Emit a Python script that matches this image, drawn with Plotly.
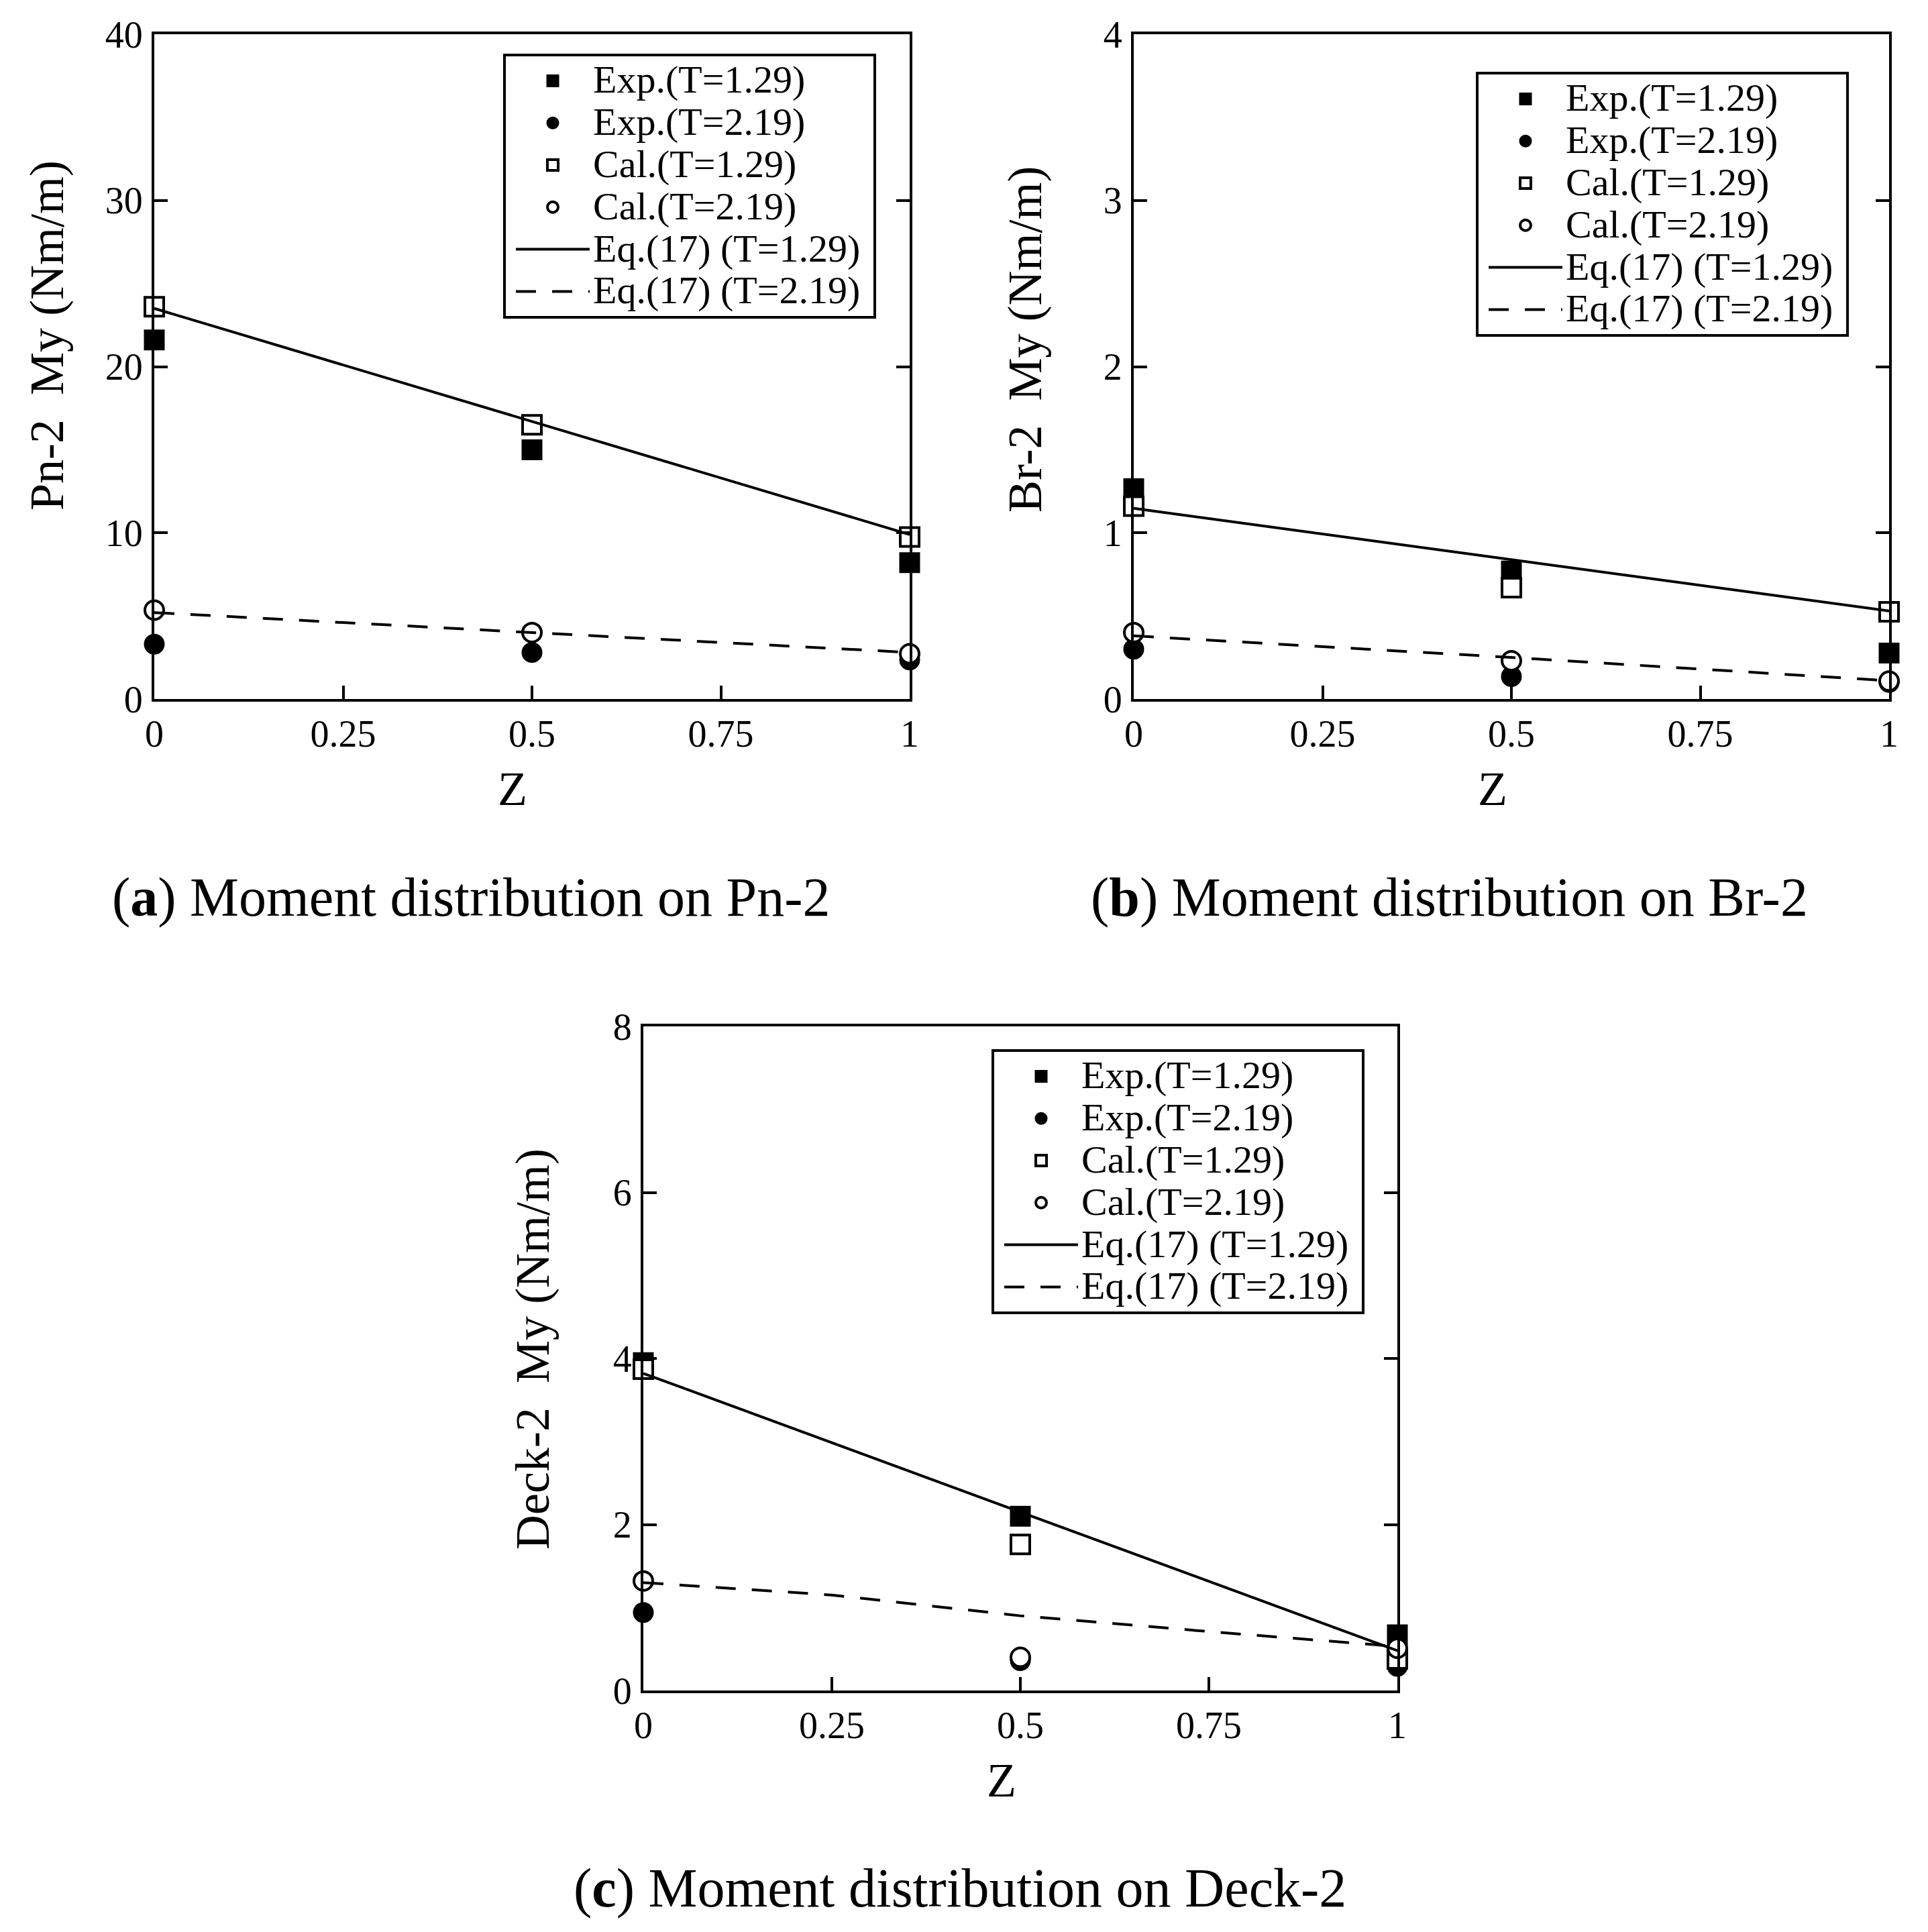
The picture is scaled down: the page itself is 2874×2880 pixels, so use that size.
import plotly.graph_objects as go

# ---------------- data ----------------
z = [0, 0.5, 1]
z_eq_c = [0, 0.25, 0.5, 0.75, 1]

# (a) Pn-2
a_exp129 = [21.6, 15.0, 8.2]
a_exp219 = [3.3, 2.8, 2.35]
a_cal129 = [23.6, 16.5, 9.75]
a_cal219 = [5.35, 4.0, 2.72]
a_eq129 = [23.5, 16.7, 9.9]
a_eq219 = [5.2, 4.0, 2.8]

# (b) Br-2
b_exp129 = [1.265, 0.77, 0.276]
b_exp219 = [0.30, 0.135, 0.10]
b_cal129 = [1.16, 0.67, 0.525]
b_cal219 = [0.40, 0.23, 0.108]
b_eq129 = [1.147, 0.84, 0.53]
b_eq219 = [0.38, 0.25, 0.11]

# (c) Deck-2
c_exp129 = [3.95, 2.10, 0.67]
c_exp219 = [0.94, 0.36, 0.29]
c_cal129 = [3.87, 1.76, 0.38]
c_cal219 = [1.32, 0.40, 0.51]
c_eq129 = [3.82, 2.15, 0.48]
c_eq219 = [1.30, 1.15, 0.90, 0.71, 0.53]

names = ["Exp.(T=1.29)", "Exp.(T=2.19)", "Cal.(T=1.29)", "Cal.(T=2.19)",
         "Eq.(17) (T=1.29)", "Eq.(17) (T=2.19)"]

x_ticks = [0, 0.25, 0.5, 0.75, 1]
x_ticktext = ["0", "0.25", "0.5", "0.75", "1"]

panels = [
    dict(ymax=40, dtick=10, ytitle="Pn-2  My (Nm/m)",
         caption="(<b>a</b>) Moment distribution on Pn-2",
         data=(a_exp129, a_exp219, a_cal129, a_cal219, a_eq129, a_eq219), zeq2=z),
    dict(ymax=4, dtick=1, ytitle="Br-2  My (Nm/m)",
         caption="(<b>b</b>) Moment distribution on Br-2",
         data=(b_exp129, b_exp219, b_cal129, b_cal219, b_eq129, b_eq219), zeq2=z),
    dict(ymax=8, dtick=2, ytitle="Deck-2  My (Nm/m)",
         caption="(<b>c</b>) Moment distribution on Deck-2",
         data=(c_exp129, c_exp219, c_cal129, c_cal219, c_eq129, c_eq219), zeq2=z_eq_c),
]

# ---------------- layout geometry (pixel positions) ----------------
W, H = 2874, 2880
FONT = "Liberation Serif"

def px(xp):
    return xp / W

def py(yp):
    return 1 - yp / H

geom = [
    dict(x=(222, 1348), y=(43, 1034), leg=(1298, 72), cap=(694, 1329),
         yt=(62, 492), xt=(756, 1168)),
    dict(x=(1682, 2808), y=(43, 1034), leg=(2748, 99), cap=(2152, 1329),
         yt=(1520, 497), xt=(2217, 1168)),
    dict(x=(951, 2075), y=(1522, 2512), leg=(2026, 1556), cap=(1423, 2806),
         yt=(786, 2003), xt=(1485, 2646)),
]

fig = go.Figure()
layout = dict(
    width=W, height=H,
    margin=dict(l=0, r=0, t=0, b=0),
    paper_bgcolor="white", plot_bgcolor="white",
    font=dict(family=FONT, color="black", size=56),
    annotations=[],
    showlegend=True,
)

MS = 28
LEGTXT = '<span style="font-size:58px">{}\u00a0</span>'
for i, (p, g) in enumerate(zip(panels, geom)):
    n = "" if i == 0 else str(i + 1)
    xa, ya = "x" + n, "y" + n
    leg = "legend" if i == 0 else "legend" + str(i + 1)
    e1, e2, c1, c2, q1, q2 = p["data"]
    common = dict(xaxis=xa, yaxis=ya, legend=leg, cliponaxis=False)
    fig.add_trace(go.Scatter(x=z, y=e1, mode="markers", name=LEGTXT.format(names[0]),
                             marker=dict(symbol="square", size=MS, color="black",
                                         line=dict(color="black", width=3)), **common))
    fig.add_trace(go.Scatter(x=z, y=e2, mode="markers", name=LEGTXT.format(names[1]),
                             marker=dict(symbol="circle", size=MS, color="black",
                                         line=dict(color="black", width=3)), **common))
    fig.add_trace(go.Scatter(x=z, y=c1, mode="markers", name=LEGTXT.format(names[2]),
                             marker=dict(symbol="square", size=MS, color="white",
                                         line=dict(color="black", width=4)), **common))
    fig.add_trace(go.Scatter(x=z, y=c2, mode="markers", name=LEGTXT.format(names[3]),
                             marker=dict(symbol="circle", size=MS, color="white",
                                         line=dict(color="black", width=4)), **common))
    fig.add_trace(go.Scatter(x=z, y=q1, mode="lines", name=LEGTXT.format(names[4]),
                             line=dict(color="black", width=4), **common))
    fig.add_trace(go.Scatter(x=p["zeq2"], y=q2, mode="lines", name=LEGTXT.format(names[5]),
                             line=dict(color="black", width=4, dash="30px,24px"), **common))

    axis_common = dict(showline=True, linecolor="black", linewidth=4,
                       ticks="inside", ticklen=20, tickwidth=4, tickcolor="black",
                       showgrid=False, zeroline=False, automargin=False,
                       tickfont=dict(family=FONT, size=56, color="black"))
    layout["xaxis" + n] = dict(
        domain=[px(g["x"][0]), px(g["x"][1])], anchor=ya,
        range=[0, 1], tickvals=x_ticks, ticktext=x_ticktext, mirror=True,
        **axis_common)
    layout["yaxis" + n] = dict(
        domain=[py(g["y"][1]), py(g["y"][0])], anchor=xa,
        range=[0, p["ymax"]], dtick=p["dtick"], tick0=0, mirror="ticks",
        ticklabelstandoff=2,
        **axis_common)
    layout[leg] = dict(
        x=px(g["leg"][0]), y=py(g["leg"][1]), xanchor="right", yanchor="top",
        bgcolor="white", bordercolor="black", borderwidth=4,
        font=dict(family=FONT, size=46, color="black"),
        itemwidth=110, indentation=10, tracegroupgap=0,
    )
    layout["annotations"].append(dict(
        text=p["ytitle"], x=px(g["yt"][0]), y=py(g["yt"][1]), textangle=-90,
        xref="paper", yref="paper", xanchor="center", yanchor="middle",
        showarrow=False, font=dict(family=FONT, size=72, color="black")))
    layout["annotations"].append(dict(
        text="Z", x=px(g["xt"][0]), y=py(g["xt"][1]),
        xref="paper", yref="paper", xanchor="center", yanchor="middle",
        showarrow=False, font=dict(family=FONT, size=72, color="black")))
    layout["annotations"].append(dict(
        text=p["caption"], x=px(g["cap"][0]), y=py(g["cap"][1]),
        xref="paper", yref="paper", xanchor="center", yanchor="middle",
        showarrow=False, font=dict(family=FONT, size=82, color="black")))

fig.update_layout(**layout)
fig.write_html("out.html")
